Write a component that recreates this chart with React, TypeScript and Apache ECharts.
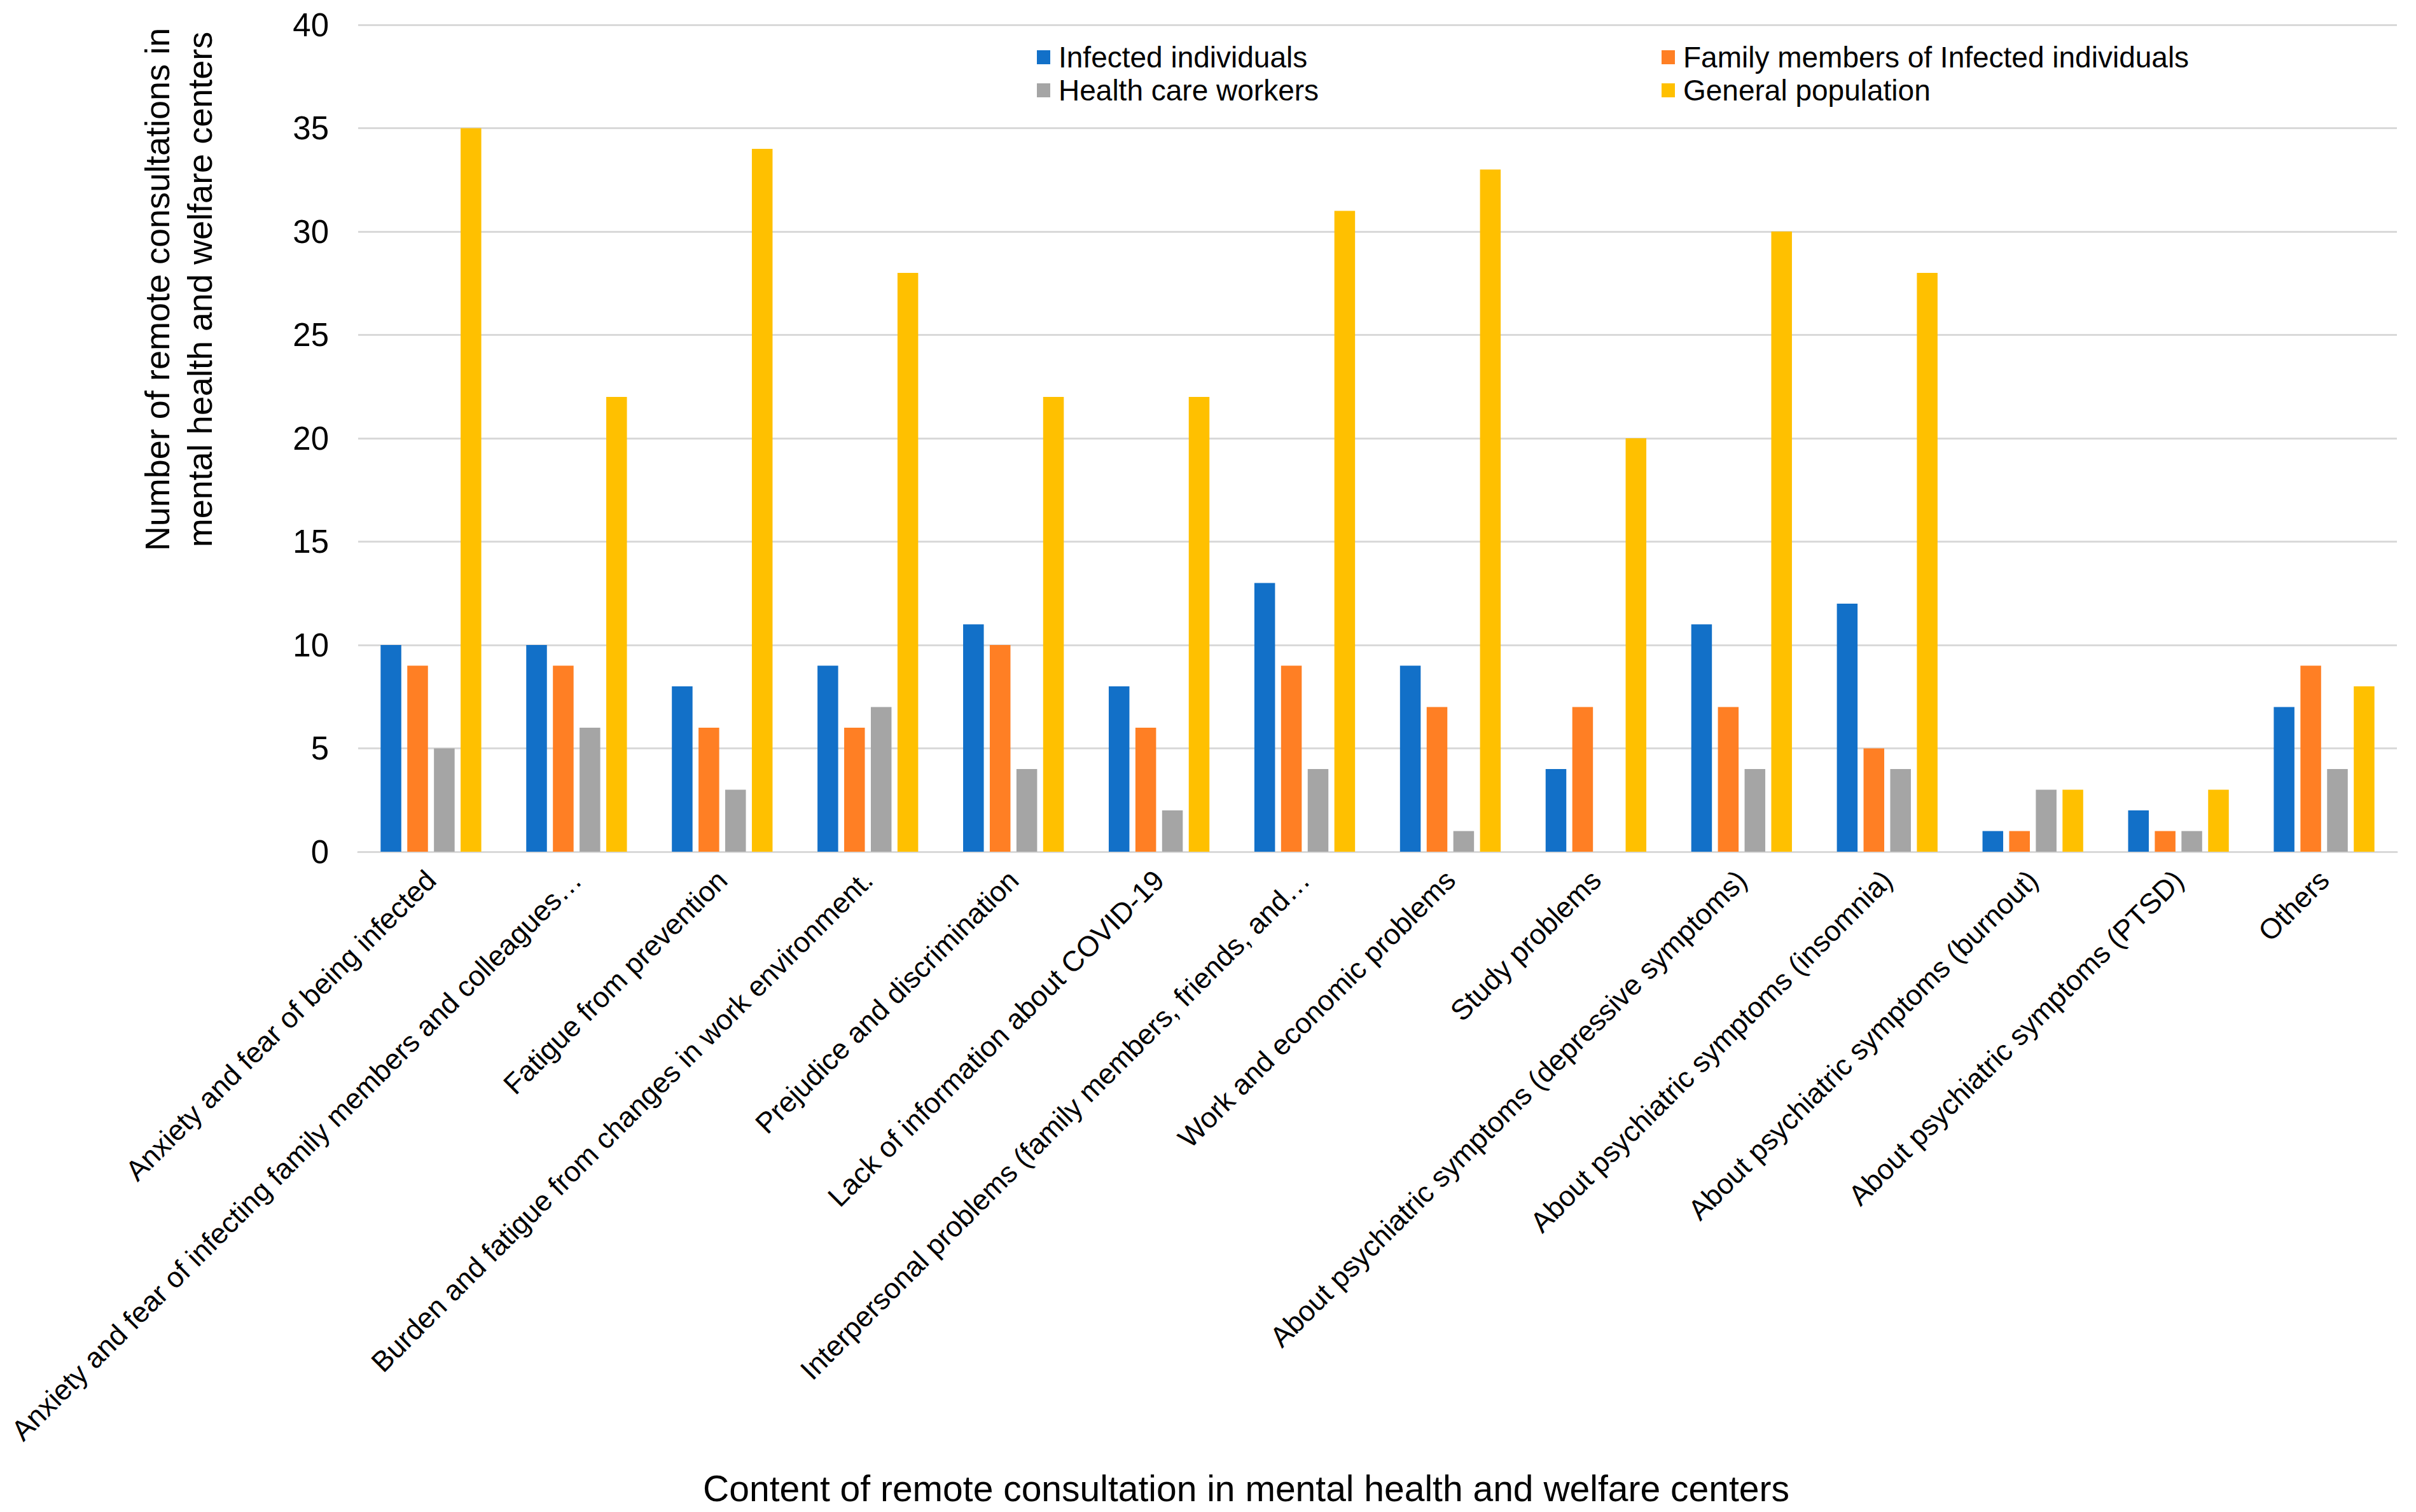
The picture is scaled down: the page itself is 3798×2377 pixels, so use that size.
import React, { useEffect, useRef } from 'react';
import * as echarts from 'echarts';

const categories = [
  'Anxiety and fear of being infected',
  'Anxiety and fear of infecting family members and colleagues…',
  'Fatigue from prevention',
  'Burden and fatigue from changes in work environment.',
  'Prejudice and discrimination',
  'Lack of information about COVID-19',
  'Interpersonal problems (family members, friends, and…',
  'Work and economic problems',
  'Study problems',
  'About psychiatric symptoms (depressive symptoms)',
  'About psychiatric symptoms (insomnia)',
  'About psychiatric symptoms (burnout)',
  'About psychiatric symptoms (PTSD)',
  'Others',
];

const seriesNames = [
  'Infected individuals',
  'Family members of Infected individuals',
  'Health care workers',
  'General population',
];

const infected = [10, 10, 8, 9, 11, 8, 13, 9, 4, 11, 12, 1, 2, 7];
const family = [9, 9, 6, 6, 10, 6, 9, 7, 7, 7, 5, 1, 1, 9];
const healthCare = [5, 6, 3, 7, 4, 2, 4, 1, 0, 4, 4, 3, 1, 4];
const general = [35, 22, 34, 28, 22, 22, 31, 33, 20, 30, 28, 3, 3, 8];

const yTicks = { min: 0, max: 40, interval: 5 };

const yTitle = 'Number of remote consultations in\nmental health and welfare centers';
const xTitle = 'Content of remote consultation in mental health and welfare centers';

const colors = ['#1270C8', '#FF7F24', '#A5A5A5', '#FFC000'];
const FONT = '"Liberation Sans", Arial, Helvetica, sans-serif';

export default function App() {
  const ref = useRef<HTMLDivElement>(null);
  useEffect(() => {
    document.body.style.margin = '0';
    const chart = echarts.init(ref.current!, null, { renderer: 'svg' });
    const values = [infected, family, healthCare, general];
    const legendCommon = {
      orient: 'vertical',
      icon: 'rect',
      itemWidth: 21,
      itemHeight: 22,
      itemGap: 0,
      top: 59,
      textStyle: {
        fontFamily: FONT,
        fontSize: 46,
        lineHeight: 52,
        color: '#000',
        padding: [0, 0, 0, 8],
      },
    };
    chart.setOption({
      animation: false,
      backgroundColor: '#fff',
      textStyle: { fontFamily: FONT },
      color: colors,
      grid: {
        left: 563,
        right: 30,
        top: 39,
        bottom: 1038,
        containLabel: false,
        outerBoundsMode: 'none',
      },
      legend: [
        { ...legendCommon, left: 1625, data: [seriesNames[0], seriesNames[2]] },
        { ...legendCommon, left: 2607, data: [seriesNames[1], seriesNames[3]] },
      ],
      xAxis: {
        type: 'category',
        data: categories,
        axisLine: { show: true, lineStyle: { color: '#d9d9d9', width: 3 } },
        axisTick: { show: false },
        axisLabel: {
          interval: 0,
          rotate: 45,
          margin: 37,
          fontSize: 45,
          color: '#000',
          fontFamily: FONT,
        },
      },
      yAxis: {
        type: 'value',
        min: yTicks.min,
        max: yTicks.max,
        interval: yTicks.interval,
        axisLine: { show: false },
        axisTick: { show: false },
        splitLine: { lineStyle: { color: '#d9d9d9', width: 3 } },
        axisLabel: { fontSize: 51, color: '#000', margin: 46, fontFamily: FONT },
      },
      series: seriesNames.map((name, i) => ({
        name,
        type: 'bar',
        data: values[i],
        barWidth: 32.5,
        barGap: '29%',
        itemStyle: { color: colors[i] },
      })),
      graphic: [
        {
          type: 'text',
          x: 280,
          y: 455,
          rotation: Math.PI / 2,
          style: {
            text: yTitle,
            fontFamily: FONT,
            fontSize: 54,
            lineHeight: 67,
            align: 'center',
            verticalAlign: 'middle',
            fill: '#000',
          },
        },
        {
          type: 'text',
          x: 1959,
          y: 2340,
          style: {
            text: xTitle,
            fontFamily: FONT,
            fontSize: 57,
            align: 'center',
            verticalAlign: 'middle',
            fill: '#000',
          },
        },
      ],
    });
    return () => chart.dispose();
  }, []);
  return <div ref={ref} style={{ width: 3798, height: 2377 }} />;
}
